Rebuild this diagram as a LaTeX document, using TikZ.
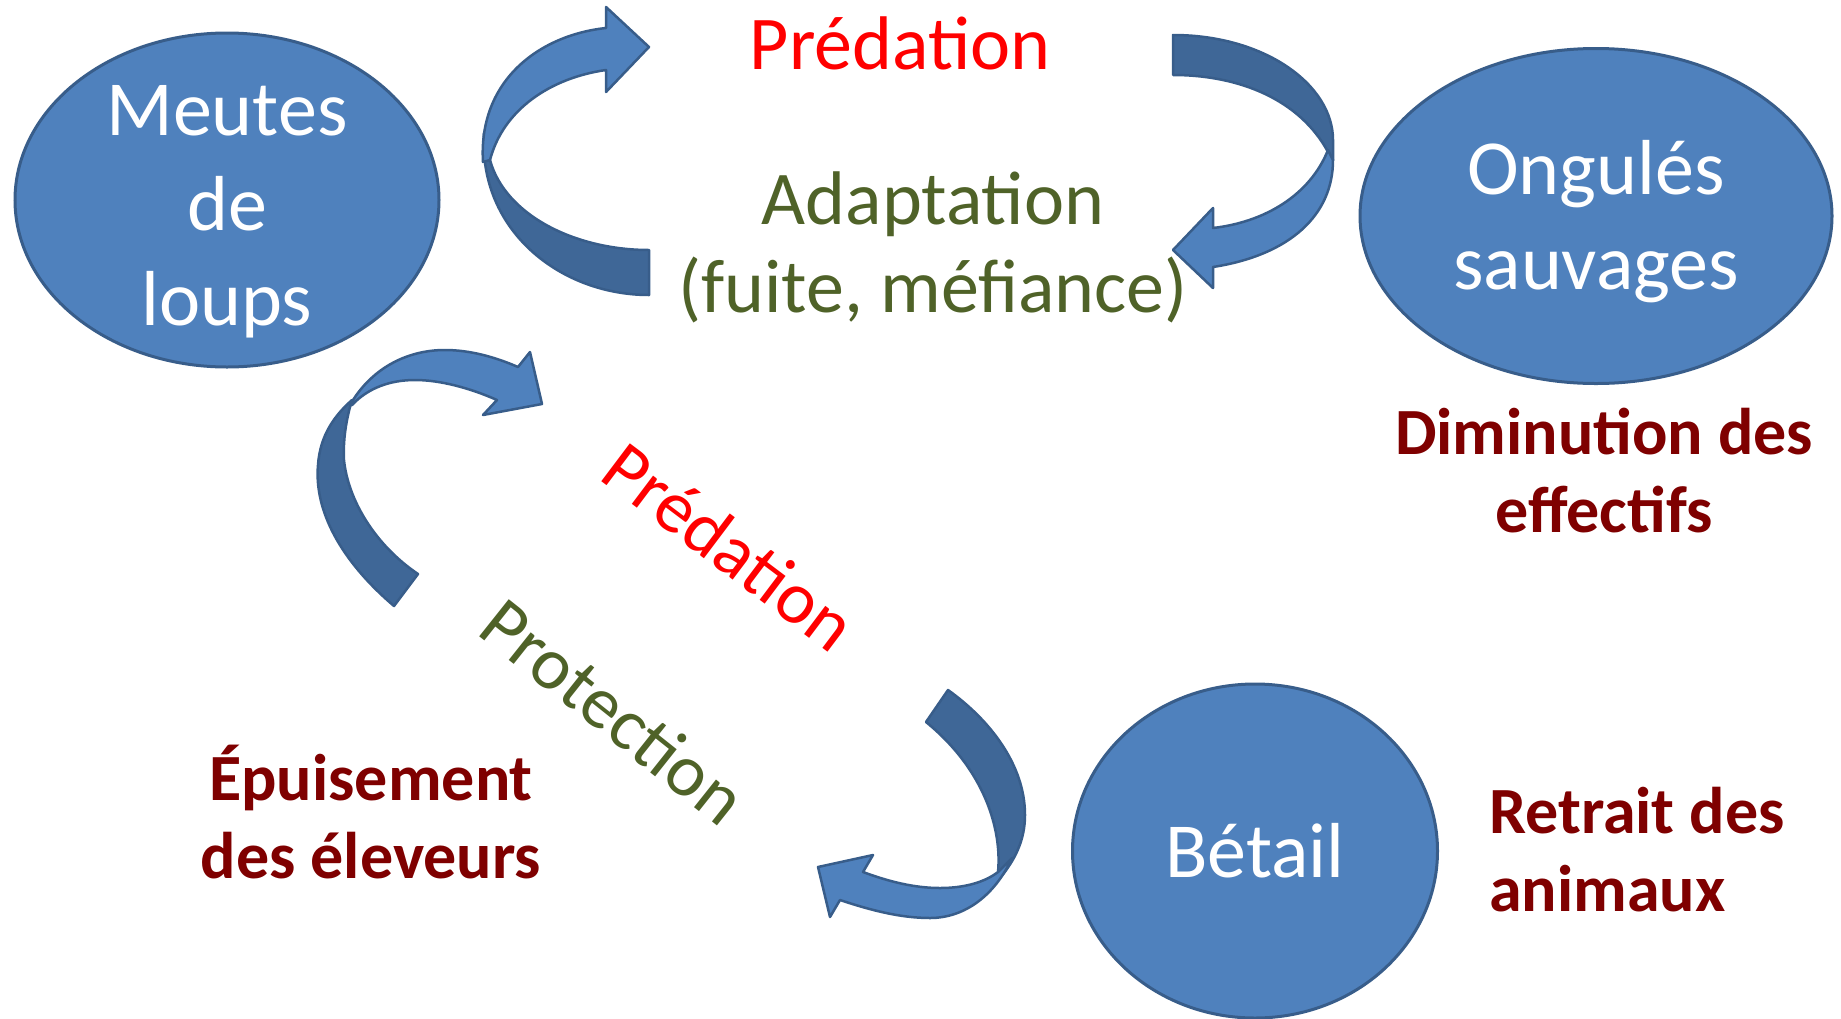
\documentclass[tikz,border=0pt]{standalone}
\usepackage{fontspec}
\setmainfont{Carlito}
\usetikzlibrary{shapes.geometric}
\definecolor{bleu}{HTML}{4F81BD}
\definecolor{bord}{HTML}{385D8A}
\definecolor{sombre}{HTML}{3F6797}
\definecolor{vert}{HTML}{4F6228}
\definecolor{brun}{HTML}{7F0000}

\begin{document}
\begin{tikzpicture}[x=1pt,y=-1pt,
bulle/.style={ellipse,draw=bord,fill=bleu,line width=3pt,inner sep=0},
txt/.style={align=center,inner sep=0,font=\fontsize{78}{95}\selectfont},
lab/.style={inner sep=0,font=\bfseries\fontsize{66}{78}\selectfont,text=brun},
fl/.style={draw=bord,line width=2.5pt,line join=round,fill=bleu},
flb/.style={fl,fill=sombre}]
\useasboundingbox (0,0) rectangle (1841,1018);
\node[bulle,minimum width=424,minimum height=334](loups) at (227,200){};
\node[txt,text=white](loups-t) at (loups.center) [yshift=-12pt]{Meutes\\de\\loups};
\node[bulle,minimum width=472,minimum height=335](ong) at (1596,216){};
\node[txt,text=white](ong-t) at (ong.center) [yshift=-6pt]{Ongulés\\sauvages};
\node[bulle,minimum width=365,minimum height=334](betail) at (1255,851){};
\node[txt,text=white](betail-t) at (betail.center){Bétail};
\node[txt,text=red,font=\fontsize{76}{90}\selectfont](pred1) at (900,43){Prédation};
\node[txt,text=vert,font=\fontsize{76}{88}\selectfont](adapt) at (933,247){Adaptation\\(fuite, méfiance)};
\node[txt,text=red,rotate=-37,font=\fontsize{74}{90}\selectfont](pred2) at (730,546){Prédation};
\node[txt,text=vert,rotate=-38.5,font=\fontsize{74}{90}\selectfont](prot) at (614,711){Protection};
\node[lab,align=center](dimin) at (1604,471){Diminution des\\effectifs};
\node[lab,align=center](epuis) at (371,812){Épuisement\\des éleveurs};
\node[lab,align=left,anchor=west](retrait) at (1489,850){Retrait des\\animaux};
\draw[flb](484,133) .. controls (478,230) and (560,295) .. (649,295) -- (649,250)
  .. controls (575,250) and (505,215) .. (490,160) -- cycle;
\draw[fl](483,162) .. controls (478,80) and (540,35) .. (606,28) -- (606,7) -- (649,47)
  -- (606,92) -- (606,70) .. controls (550,78) and (503,110) .. (490,160) -- cycle;
\draw[flb](1173,35) .. controls (1265,35) and (1333,85) .. (1333,140) -- (1333,160) -- (1328,152)
  .. controls (1300,100) and (1240,75) .. (1173,75) -- cycle;
\draw[fl](1328,150) .. controls (1310,195) and (1265,222) .. (1213,228) -- (1213,208) -- (1173,250)
  -- (1213,288) -- (1213,267) .. controls (1290,255) and (1333,215) .. (1333,160) -- cycle;
\draw[flb](394,606) .. controls (340,560) and (314,510) .. (318,465) .. controls (320,435) and (335,415) .. (352,400)
  .. controls (346,420) and (343,440) .. (344,460) .. controls (348,500) and (375,545) .. (418,574) -- cycle;
\draw[fl](350,405) .. controls (370,370) and (405,350) .. (445,350) .. controls (470,350) and (495,357) .. (518,367)
  -- (530,352) -- (542,404) -- (483,415) -- (497,400) .. controls (470,388) and (440,380) .. (415,380)
  .. controls (390,380) and (368,388) .. (352,405) -- cycle;
\draw[flb](948,690) .. controls (990,720) and (1025,765) .. (1025,815) .. controls (1025,840) and (1015,860) .. (1000,878)
  -- (998,872) .. controls (1002,830) and (985,770) .. (926,722) -- cycle;
\draw[fl](1012,858) .. controls (995,895) and (965,918) .. (930,918) .. controls (900,918) and (870,910) .. (840,900)
  -- (830,917) -- (818,867) -- (873,855) -- (863,872) .. controls (890,882) and (915,888) .. (940,888)
  .. controls (965,888) and (985,882) .. (998,872) -- cycle;
\end{tikzpicture}
\end{document}
